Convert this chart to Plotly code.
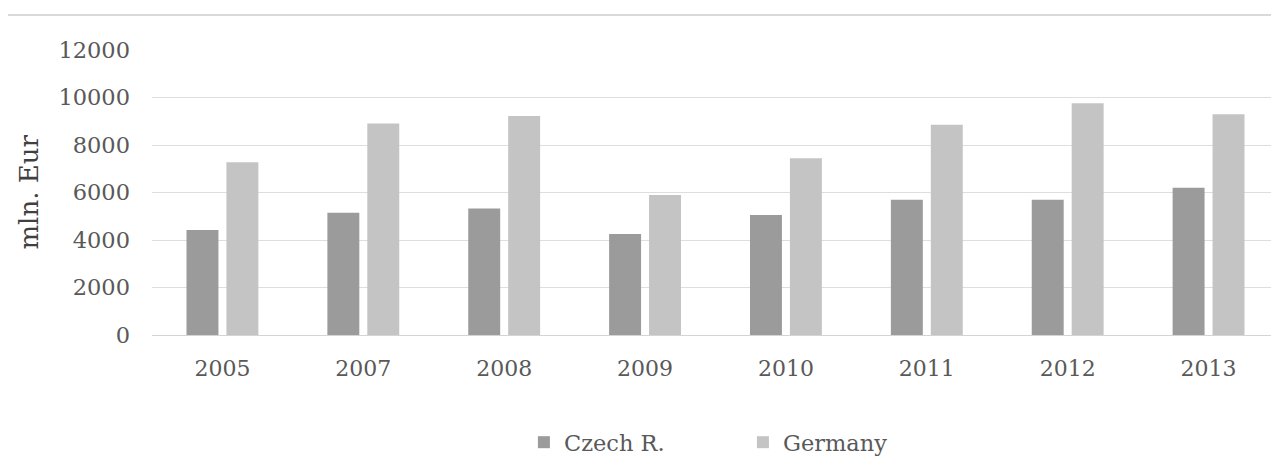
import plotly.graph_objects as go

years = ["2005", "2007", "2008", "2009", "2010", "2011", "2012", "2013"]
czech = [4420, 5150, 5330, 4250, 5050, 5700, 5700, 6200]
germany = [7270, 8910, 9220, 5900, 7440, 8850, 9760, 9300]
y_ticks = [0, 2000, 4000, 6000, 8000, 10000, 12000]

FONT = "DejaVu Serif"

fig = go.Figure()
fig.add_trace(go.Bar(name="Czech R.", x=years, y=czech, marker=dict(color="#9b9b9b", line=dict(width=0))))
fig.add_trace(go.Bar(name="Germany", x=years, y=germany, marker=dict(color="#c4c4c4", line=dict(width=0))))

fig.update_layout(
    width=1271, height=455,
    margin=dict(l=144, r=0, t=42, b=128, autoexpand=False),
    paper_bgcolor="white", plot_bgcolor="white",
    barmode="group", bargap=0.433, bargroupgap=0.2,
    font=dict(family=FONT, color="#595959", size=22),
    showlegend=True,
    legend=dict(orientation="h", x=0.330, xanchor="left", y=-0.302, yanchor="top",
                font=dict(family=FONT, size=22.5, color="#595959"),
                entrywidth=174, entrywidthmode="pixels", itemwidth=30),
    xaxis=dict(showgrid=False, showline=False, ticks="", ticklabelstandoff=18, automargin=False,
               tickfont=dict(family=FONT, size=22, color="#595959")),
    yaxis=dict(range=[0, 12000], tickvals=y_ticks, tickformat="d", showgrid=True,
               gridcolor="#dedede", gridwidth=1.3,
               zeroline=True, zerolinecolor="#d4d4d4", zerolinewidth=1.3,
               showline=False, ticks="", ticklabelstandoff=21, automargin=False,
               tickfont=dict(family=FONT, size=22.5, color="#595959")),
    annotations=[dict(text="mln. Eur", xref="paper", yref="paper", x=-0.110, y=0.5,
                      xanchor="center", yanchor="middle", textangle=-90, showarrow=False,
                      font=dict(family=FONT, size=26, color="#404040"))],
    shapes=[dict(type="line", xref="paper", yref="paper", x0=-0.14, x1=1.0, y0=1.1228, y1=1.1228,
                 line=dict(color="#d9d9d9", width=2))],
)

fig.write_html("out.html")
